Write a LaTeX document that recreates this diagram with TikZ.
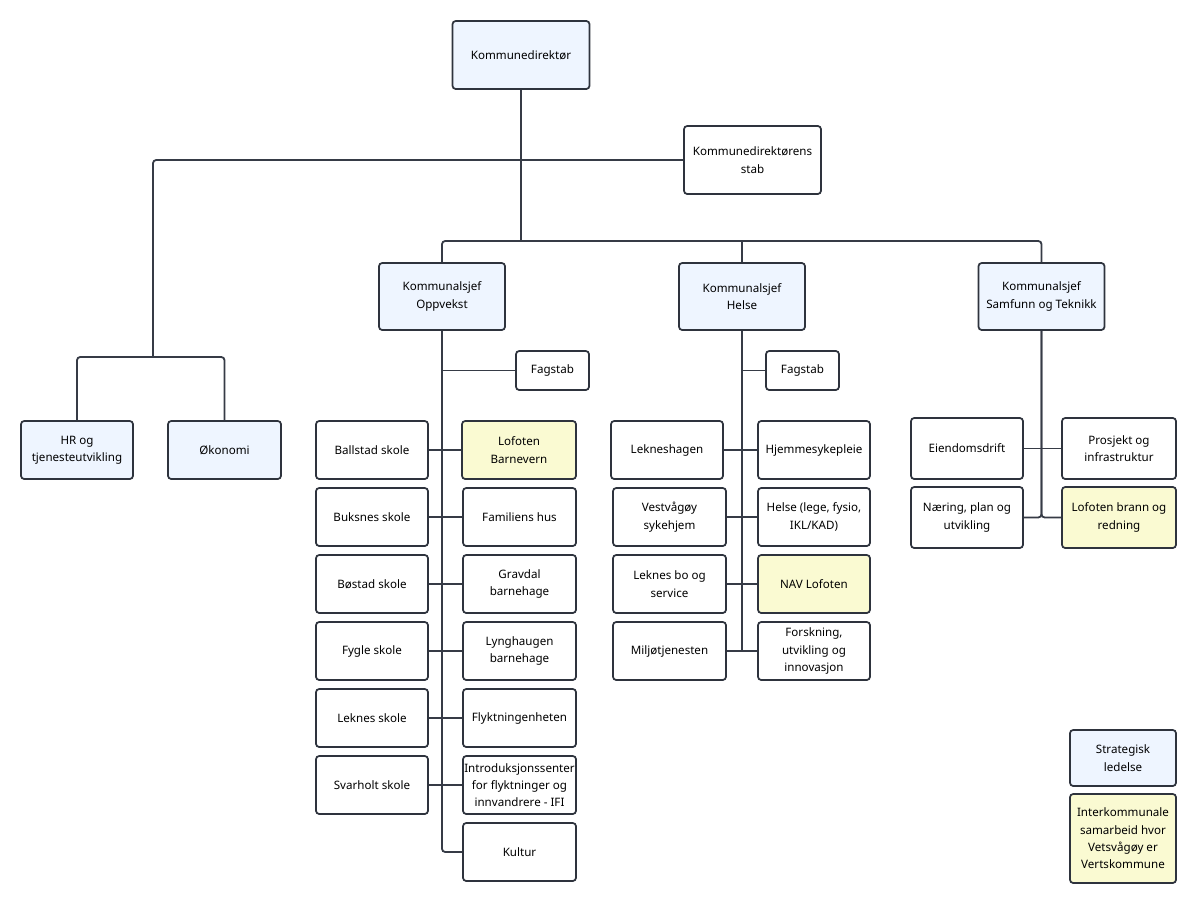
\documentclass[tikz,border=0pt]{standalone}
\usepackage{fontspec}
\setmainfont{Noto Sans}
\definecolor{bluefill}{HTML}{EEF5FF}
\definecolor{yelfill}{HTML}{FAFAD2}
\definecolor{edge}{HTML}{2E333D}
\definecolor{wire}{HTML}{363B46}
\tikzset{
  base/.style={draw=edge, line width=1.3pt, rounded corners=2.4pt, align=center,
    inner sep=0pt, font=\fontsize{8.7}{13}\selectfont, text=black, fill=white},
  std/.style={base, minimum width=84pt, minimum height=43.5pt},
  big/.style={base, minimum width=102.75pt, minimum height=51pt},
  chief/.style={base, minimum width=94.5pt, minimum height=50.25pt, fill=bluefill},
  small/.style={base, minimum width=54.75pt, minimum height=29.25pt},
  sam/.style={base, minimum width=84pt, minimum height=45.75pt},
  blue/.style={fill=bluefill},
  yel/.style={fill=yelfill},
  wire/.style={draw=wire, line width=1.35pt, rounded corners=2.4pt}
}
\begin{document}
\begin{tikzpicture}[x=0.75pt,y=-0.75pt]
\useasboundingbox[fill=white] (0,0) rectangle (1200,907);

% top level
\node[big, blue] (kd) at (521,55) {Kommunedirektør};
\node[big] (stab) at (752.5,160) {Kommunedirektørens\\stab};

\node[chief] (ops) at (442,296.5) {Kommunalsjef\\Oppvekst};
\node[chief] (hel) at (742,296.5) {Kommunalsjef\\Helse};
\node[chief] (samt) at (1041.5,296.5) {Kommunalsjef\\Samfunn og Teknikk};

\node[std, blue] (hr) at (77,450) {HR og\\tjenesteutvikling};
\node[std, blue, minimum width=84.75pt] (oko) at (224.5,450) {Økonomi};

\coordinate (j2) at (521,241);
\coordinate (jl) at (153,160);
\coordinate (jlb) at (153,357);

\draw[wire] (kd.south) -- (j2);
\draw[wire] (stab.west) -- (jl) -- (jlb);
\draw[wire] (hr.north) |- (jlb) -| (oko.north);
\draw[wire] (ops.north) |- (j2) -| (samt.north);
\draw[wire] (hel.north) -- (hel.north |- j2);

% Oppvekst
\node[small] (fag1) at (552.5,370.5) {Fagstab};
\node[std] (ball) at (372,450) {Ballstad skole};
\node[std, yel, minimum width=85.5pt] (lofb) at (519,450) {Lofoten\\Barnevern};
\node[std] (buks) at (372,517) {Buksnes skole};
\node[std, minimum width=84.75pt] (fam) at (519.5,517) {Familiens hus};
\node[std] (bost) at (372,584) {Bøstad skole};
\node[std, minimum width=84.75pt] (grav) at (519.5,584) {Gravdal\\barnehage};
\node[std] (fyg) at (372,651) {Fygle skole};
\node[std, minimum width=84.75pt] (lyng) at (519.5,651) {Lynghaugen\\barnehage};
\node[std] (lekn) at (372,718) {Leknes skole};
\node[std, minimum width=84.75pt] (flyk) at (519.5,718) {Flyktningenheten};
\node[std] (svar) at (372,785) {Svarholt skole};
\node[std, minimum width=84.75pt] (intro) at (519.5,785) {Introduksjonssenter\\for flyktninger og\\innvandrere - IFI};
\node[std, minimum width=84.75pt] (kult) at (519.5,852) {Kultur};

\draw[wire] (ops.south) |- (kult.west);
\draw[wire] (ops.south |- fag1.west) -- (fag1.west);
\draw[wire] (ball.east) -- (lofb.west);
\draw[wire] (buks.east) -- (fam.west);
\draw[wire] (bost.east) -- (grav.west);
\draw[wire] (fyg.east) -- (lyng.west);
\draw[wire] (lekn.east) -- (flyk.west);
\draw[wire] (svar.east) -- (intro.west);

% Helse
\node[small] (fag2) at (802.5,370.5) {Fagstab};
\node[std] (lekh) at (667,450) {Lekneshagen};
\node[std] (hjem) at (814,450) {Hjemmesykepleie};
\node[std, minimum width=84.75pt] (vest) at (669.5,517) {Vestvågøy\\sykehjem};
\node[std] (hels) at (814,517) {Helse (lege, fysio,\\IKL/KAD)};
\node[std, minimum width=84.75pt] (bo) at (669.5,584) {Leknes bo og\\service};
\node[std, yel] (nav) at (814,584) {NAV Lofoten};
\node[std, minimum width=84.75pt] (milj) at (669.5,651) {Miljøtjenesten};
\node[std] (fors) at (814,651) {Forskning,\\utvikling og\\innovasjon};

\coordinate (hend) at (742,651);
\draw[wire] (hel.south) -- (hend);
\draw[wire] (hel.south |- fag2.west) -- (fag2.west);
\draw[wire] (lekh.east) -- (hjem.west);
\draw[wire] (vest.east) -- (hels.west);
\draw[wire] (bo.east) -- (nav.west);
\draw[wire] (milj.east) -- (fors.west);

% Samfunn og Teknikk
\node[sam] (eien) at (967,448.5) {Eiendomsdrift};
\node[sam, minimum width=85.5pt] (pros) at (1119,448.5) {Prosjekt og\\infrastruktur};
\node[sam] (naer) at (967,517.5) {Næring, plan og\\utvikling};
\node[sam, yel, minimum width=85.5pt] (lbr) at (1119,517.5) {Lofoten brann og\\redning};

\coordinate (send) at (1041.5,517.5);
\draw[wire] (samt.south) -- (send) -- (naer.east);
\draw[wire] (samt.south) -- (send) -- (lbr.west);
\draw[wire] (eien.east) -- (pros.west);

% Legend
\node[base, blue, minimum width=79.5pt, minimum height=42pt] (leg1) at (1123,758) {Strategisk\\ledelse};
\node[base, yel, minimum width=79.5pt, minimum height=66.75pt] (leg2) at (1123,838.5) {Interkommunale\\samarbeid hvor\\Vetsvågøy er\\Vertskommune};
\end{tikzpicture}
\end{document}
